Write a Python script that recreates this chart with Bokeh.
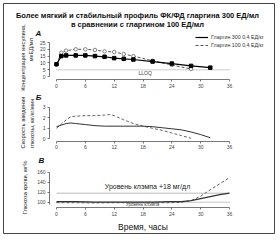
import math
from bokeh.plotting import figure
from bokeh.models import (Label, FixedTicker, Legend, LegendItem, LinearAxis,
                          Range1d)
from bokeh.embed import file_html
from bokeh.resources import INLINE

# ---------------- data ----------------
title_lines = ["Более мягкий и стабильный профиль ФК/ФД гларгина 300 ЕД/мл",
               "в сравнении с гларгином 100 ЕД/мл"]
series_names = ["Гларгин 300 0,4 ЕД/кг", "Гларгин 100 0,4 ЕД/кг"]
panel_letters = ["А", "Б", "В"]
x_ticks = [0, 6, 12, 18, 24, 30, 36]
x_title = "Время, часы"

# Panel A: insulin concentration, мкЕД/мл
a_ticks = [0, 5, 10, 15, 20, 25]
a_title = ["Концентрация инсулина,", "мкЕД/мл"]
a_t300 = [0, 1, 2, 4, 6, 8, 10, 12, 14, 16, 20, 24, 28, 32]
a_v300 = [9.0, 15.0, 15.5, 15.5, 15.5, 15.0, 14.5, 13.5, 13.0, 12.5, 11.0, 9.5, 7.8, 6.5]
a_t100 = [0, 1, 2, 4, 6, 8, 10, 12, 14, 16, 20, 24, 28]
a_v100 = [9.0, 17.5, 19.0, 20.0, 20.0, 19.5, 18.5, 18.0, 16.5, 15.0, 11.5, 8.5, 5.5]
lloq = 5
lloq_label = "LLOQ"

# Panel Б: glucose infusion rate, мг/кг/мин
b_ticks = [0, 1, 2, 3]
b_title = ["Скорость введения", "глюкозы, мг/кг/мин"]
b_t300 = [0, 1, 2, 3, 4, 6, 8, 10, 12, 14, 16, 18, 20, 22, 24, 26, 28, 30, 32]
b_v300 = [1.15, 1.3, 1.45, 1.5, 1.45, 1.35, 1.25, 1.2, 1.2, 1.2, 1.2, 1.2, 1.15, 1.05, 0.95, 0.85, 0.65, 0.4, 0.1]
b_t100 = [0, 1, 2, 3, 4, 6, 8, 10, 11, 12, 13, 14, 16, 18, 20, 22, 24, 26, 28]
b_v100 = [1.0, 1.4, 1.8, 2.1, 2.15, 2.2, 2.2, 2.25, 2.3, 2.2, 2.0, 1.8, 1.45, 1.2, 1.0, 0.8, 0.55, 0.3, 0.05]

# Panel В: blood glucose, мг%
c_ticks = [100, 120, 140, 160]
c_title = "Глюкоза крови, мг%"
c_t300 = [0, 4, 8, 12, 16, 20, 24, 26, 28, 30, 32, 34, 36]
c_v300 = [101, 101, 100, 100, 100, 100, 101, 101, 103, 107, 111, 115, 118]
c_t100 = [0, 4, 8, 12, 16, 20, 24, 26, 28, 30, 32, 34, 36]
c_v100 = [99, 99, 98.5, 99, 99, 99, 99, 100, 103, 112, 125, 137, 149]
clamp = 100
clamp_delta = 18
clamp_label = "Уровень клэмпа +18 мг/дл"
clamp_small = "Уровень клэмпа"

# ---------------- layout (pixel anchors) ----------------
FONT = "Liberation Sans"
W, H = 280, 240
FL, FR, FT, FB = 3, 274, 3, 233          # frame box = drawn border
X0PX, X36PX = 56, 229                     # where t=0 and t=36 sit
KX = (X36PX - X0PX) / (x_ticks[-1] - x_ticks[0])
YAX_PX = 49                               # detached y axes


def xr_from_px():
    return Range1d((FL - X0PX) / KX, (FR - X0PX) / KX)


def yr_from(v0, px0, kpx):
    # value v0 sits at pixel row px0, kpx pixels per unit
    return Range1d(v0 - (FB - px0) / kpx, v0 + (px0 - FT) / kpx)


p = figure(width=W, height=H, x_range=xr_from_px(),
           y_range=yr_from(a_ticks[0], 76, 34 / (a_ticks[-1] - a_ticks[0])),
           output_backend="svg", toolbar_location=None,
           x_axis_location=None, y_axis_location=None,
           min_border_left=FL, min_border_right=W - FR,
           min_border_top=FT, min_border_bottom=H - FB,
           outline_line_color="#444444", outline_line_width=1,
           background_fill_color="white", border_fill_color="white")
p.grid.visible = False
p.extra_y_ranges = {
    "b": yr_from(b_ticks[0], 138.3, 31.6 / (b_ticks[-1] - b_ticks[0])),
    "c": yr_from(c_ticks[0], 201.7, 30 / (c_ticks[-1] - c_ticks[0])),
    "py": Range1d(FB, FT),
}
p.extra_x_ranges = {"px": Range1d(FL, FR)}

kyA = 34 / (a_ticks[-1] - a_ticks[0])
kyB = 31.6 / (b_ticks[-1] - b_ticks[0])
kyC = 30 / (c_ticks[-1] - c_ticks[0])
yax_loc = (YAX_PX - X0PX) / KX


def style_axis(ax):
    ax.axis_line_color = "#555555"
    ax.axis_line_width = 0.8
    ax.major_tick_line_color = "#555555"
    ax.major_tick_line_width = 0.8
    ax.major_tick_out = 2
    ax.major_tick_in = 0
    ax.minor_tick_line_color = None
    ax.major_label_text_font = FONT
    ax.major_label_text_font_size = "5px"
    ax.major_label_text_color = "#444444"
    ax.major_label_standoff = 2
    return ax


def add_axes(rname, yticks, ybounds, xaxis_val):
    kw = {} if rname is None else {"y_range_name": rname}
    ya = style_axis(LinearAxis(ticker=FixedTicker(ticks=yticks), bounds=ybounds,
                               fixed_location=yax_loc, **kw))
    p.add_layout(ya, "left")
    xa = style_axis(LinearAxis(ticker=FixedTicker(ticks=x_ticks),
                               bounds=(x_ticks[0], x_ticks[-1]),
                               fixed_location=xaxis_val, **kw))
    p.add_layout(xa, "below")
    return xa


def label(gx, gy, text, size, align="center", bold=False, italic=False,
          angle=0.0, color="#222222"):
    style = "bold italic" if (bold and italic) else ("bold" if bold else ("italic" if italic else "normal"))
    p.add_layout(Label(x=gx, y=gy, x_range_name="px", y_range_name="py",
                       text=text, text_font=FONT, text_font_size=size,
                       text_font_style=style, text_align=align,
                       text_baseline="middle", angle=angle, text_color=color))


# ---- Panel A ----
add_axes(None, a_ticks, (a_ticks[0], a_ticks[-1]), a_ticks[0] - 3 / kyA)
p.line([x_ticks[0], x_ticks[-1]], [lloq, lloq], line_color="#bbbbbb",
       line_width=1.5, line_dash="1 1")
r100 = p.line(a_t100, a_v100, line_color="#555555", line_width=1, line_dash="3 2")
p.scatter(a_t100, a_v100, marker="circle", size=3.5, line_color="#555555",
          fill_color="white", line_width=0.7)
r300 = p.line(a_t300, a_v300, line_color="black", line_width=1.2)
p.scatter(a_t300, a_v300, marker="square", size=3.5, color="black")

leg = Legend(items=[LegendItem(label=series_names[0], renderers=[r300]),
                    LegendItem(label=series_names[1], renderers=[r100])],
             location=(192, 184), orientation="vertical",
             label_text_font=FONT, label_text_font_size="5.3px",
             label_text_color="#333333", label_height=8, glyph_height=8,
             glyph_width=13, label_standoff=3, spacing=0, padding=0, margin=0,
             border_line_color=None, background_fill_alpha=0)
p.add_layout(leg, "center")

label(137, 15, title_lines[0], "7.5px", bold=True, color="#111111")
label(137, 24, title_lines[1], "7.5px", bold=True, color="#111111")
label(38, 33, panel_letters[0], "8px", bold=True, italic=True, color="#111111")
label(22, 57, a_title[0], "5.8px", angle=math.pi / 2)
label(30, 49, a_title[1], "5.8px", angle=math.pi / 2)
label(138, 72.5, lloq_label, "5px", align="left", color="#444444")

# ---- Panel Б ----
add_axes("b", b_ticks, (b_ticks[0], b_ticks[-1]), b_ticks[0] - 2.5 / kyB)
p.line(b_t100, b_v100, line_color="#666666", line_width=1, line_dash="3 2", y_range_name="b")
p.line(b_t300, b_v300, line_color="#333333", line_width=1, y_range_name="b")
label(38, 97, panel_letters[1], "8px", bold=True, italic=True, color="#111111")
label(22, 122, b_title[0], "5.8px", angle=math.pi / 2)
label(31, 123, b_title[1], "5.8px", angle=math.pi / 2)

# ---- Panel В ----
xaC = add_axes("c", c_ticks, (c_ticks[0] - 5, c_ticks[-1]), c_ticks[0] - 5.3 / kyC)
p.line([x_ticks[0], x_ticks[-1]], [clamp + clamp_delta] * 2, line_color="#aaaaaa",
       line_width=0.8, y_range_name="c")
p.line([x_ticks[0], x_ticks[-1]], [clamp, clamp], line_color="#888888",
       line_width=1, line_dash="1 1", y_range_name="c")
p.line(c_t100, c_v100, line_color="#666666", line_width=1, line_dash="3 2", y_range_name="c")
p.line(c_t300, c_v300, line_color="#333333", line_width=1.2, y_range_name="c")
xaC.axis_label = x_title
xaC.axis_label_text_font = FONT
xaC.axis_label_text_font_size = "8.5px"
xaC.axis_label_text_font_style = "normal"
xaC.axis_label_text_color = "#111111"
xaC.axis_label_standoff = 3
label(41, 160, panel_letters[2], "8px", bold=True, italic=True, color="#111111")
label(24, 187, c_title, "5.8px", angle=math.pi / 2)
label(147, 186, clamp_label, "7px", color="#222222")
label(142, 204, clamp_small, "4.5px", color="#444444")

open("out.html", "w").write(file_html(p, INLINE))
